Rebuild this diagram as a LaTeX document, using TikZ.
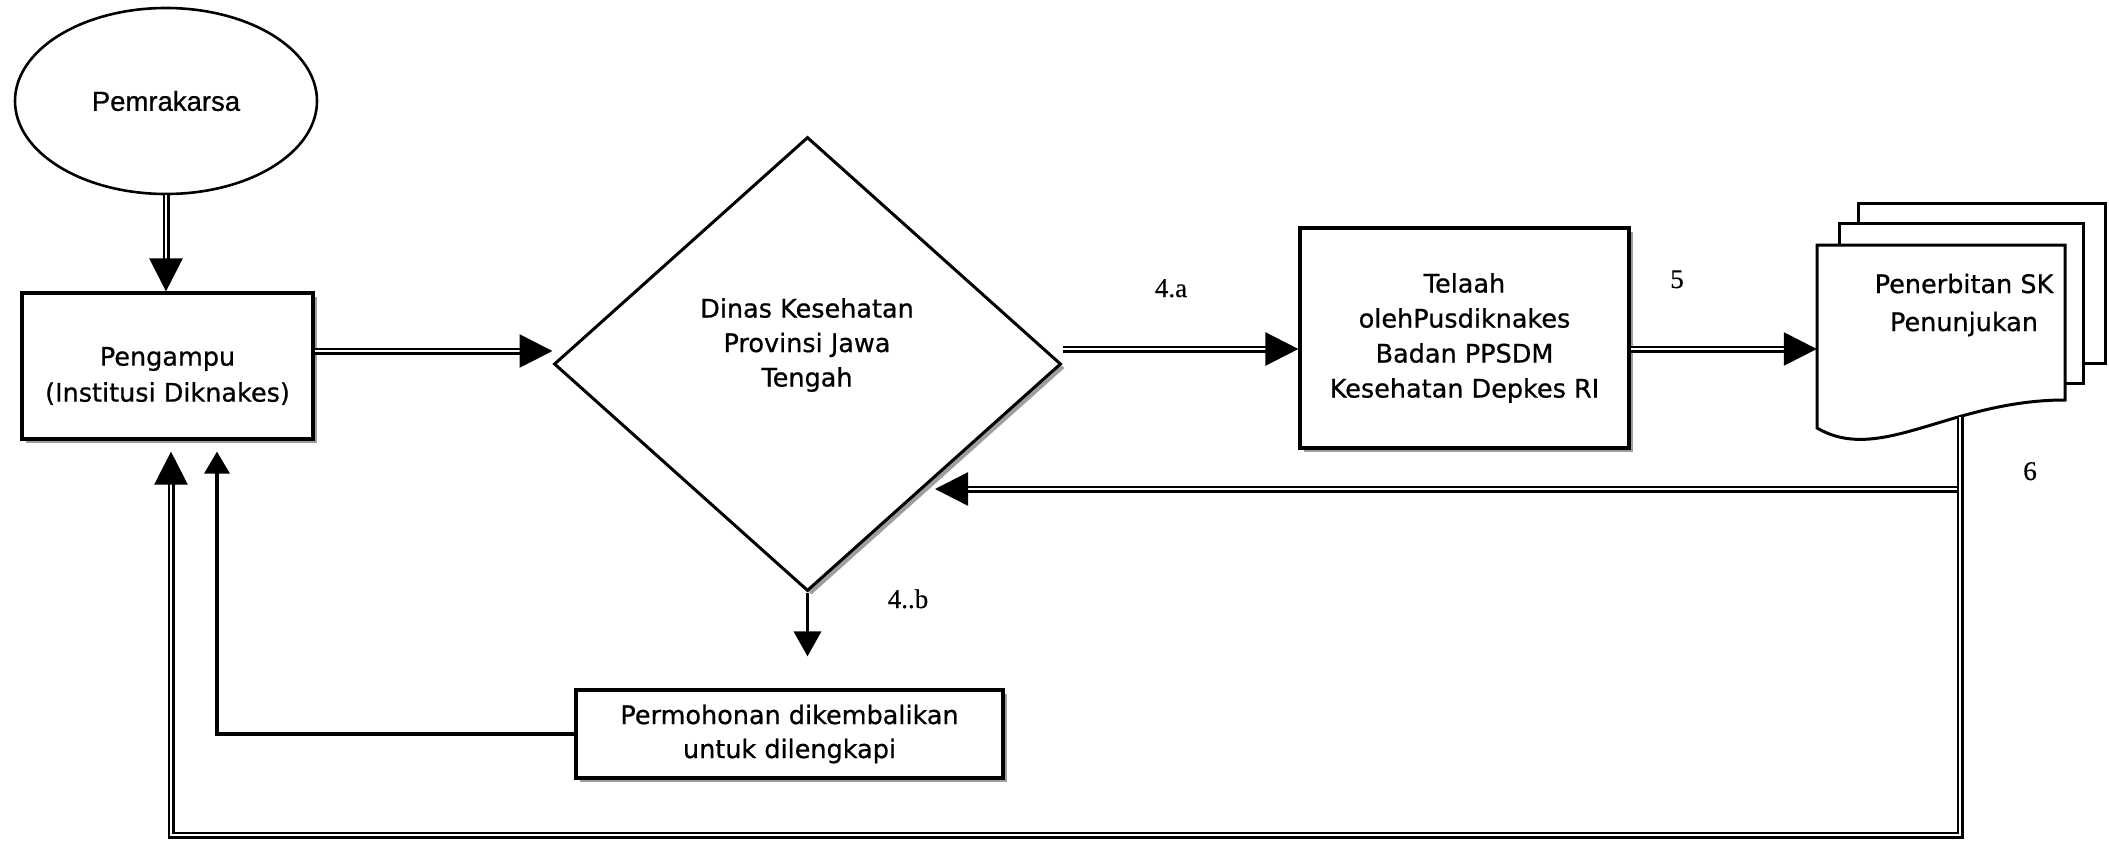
\documentclass[tikz,border=0pt]{standalone}
\usepackage{fontspec}
\newfontfamily\tahf[FakeBold=0.7]{DejaVu Sans}
\newfontfamily\arif[FakeBold=0.7]{Liberation Sans}
\newfontfamily\tmsf[FakeBold=0.5]{Liberation Serif}
\usetikzlibrary{shapes.geometric,arrows.meta,shadows}
\begin{document}
\begin{tikzpicture}[x=1pt,y=-1pt,
  shd/.style={drop shadow={shadow xshift=4pt,shadow yshift=-4pt,opacity=1,fill=black!38}},
  box/.style={draw,line width=3.2pt,fill=white,inner sep=0pt,align=center,
    font=\tahf\fontsize{25.5}{35}\selectfont,shd},
  txt/.style={align=center,inner sep=0pt,font=\tahf\fontsize{25.5}{34.5}\selectfont},
  dbl/.style={draw,line width=2.5pt,double=white,double distance=2pt},
  bigtip/.style={-{Triangle[length=33pt,width=33pt]}},
  sgl/.style={draw,line width=3.5pt},
  lbl/.style={anchor=base,inner sep=0pt,font=\tmsf\fontsize{27}{30}\selectfont},
  page/.style={draw,line width=3pt,fill=white,line join=miter}
]
\useasboundingbox (0,0) rectangle (2109,848);

% nodes
\node[draw,ellipse,line width=2.6pt,fill=white,minimum width=302pt,minimum height=186pt,
  inner sep=0pt,font=\arif\fontsize{27.5}{33}\selectfont] (e) at (166,101) {Pemrakarsa};

\node[box,minimum width=291pt,minimum height=146pt] (p) at (167.5,366) {};
\node[txt,font=\tahf\fontsize{25.5}{36}\selectfont] (pt) at (167.5,376) {Pengampu\\(Institusi Diknakes)};

\node[draw,diamond,line width=3pt,fill=white,minimum width=507pt,minimum height=454pt,
  inner sep=0pt,shd] (d) at (807.5,364) {};
\node[txt] (dt) at (807,345) {Dinas Kesehatan\\Provinsi Jawa\\Tengah};

\node[box,minimum width=329pt,minimum height=220pt] (t) at (1464.5,338)
  {Telaah\\olehPusdiknakes\\Badan PPSDM\\Kesehatan Depkes RI};

\node[box,minimum width=427pt,minimum height=88pt,font=\tahf\fontsize{25.5}{34}\selectfont] (k) at (789.5,734)
  {Permohonan dikembalikan\\untuk dilengkapi};

% document stack
\draw[page] (1858,203) rectangle (2105,363);
\draw[page] (1839,223) rectangle (2083,383);
\draw[page] (1817,245) -- (2065,245) -- (2065,400)
  .. controls (1950,400) and (1880,465) .. (1817,428) -- cycle;
\node[minimum width=248pt,minimum height=183pt,inner sep=0pt] (doc) at (1941,336.5) {};
\node[txt,font=\tahf\fontsize{25.5}{38}\selectfont] (doctxt) at (1964,305) {Penerbitan SK\\Penunjukan};

% labels
\node[lbl] (l4a) at (1171,297) {4.a};
\node[lbl] (l5) at (1677,288) {5};
\node[lbl] (l6) at (2030,480) {6};
\node[lbl] (l4b) at (908,608) {4..b};

% coordinates
\coordinate (pa) at ([yshift=15pt]p.east);
\coordinate (da) at ([yshift=15pt]d.east);
\coordinate (ta) at ([yshift=-11pt]t.east);
\coordinate (docb) at (1960,417);
\coordinate (cbr) at (1960,835);
\coordinate (rj) at (1958,489);
\coordinate (pin1) at ([xshift=3.5pt]p.south);
\coordinate (pin2) at ([xshift=49.5pt]p.south);

% connectors
\draw[dbl,bigtip] (e.south) -- (e.south |- p.north);
\draw[dbl,bigtip] (pa) -- (pa -| d.west);
\draw[dbl,bigtip] (da) -- (da -| t.west);
\draw[dbl,bigtip] (ta) -- (ta -| doc.west);
\draw[dbl,bigtip] (rj) -- (rj -| d.south east);
\draw[dbl,bigtip,shorten >=11pt] (docb) -- (cbr) -| (pin1);
\draw[sgl,-{Triangle[length=25pt,width=27pt]},shorten >=32pt] (d.south) -- (d.south |- k.north);
\draw[sgl,-{Triangle[length=22pt,width=25pt]},shorten >=11pt] (k.west) -| (pin2);
\end{tikzpicture}
\end{document}
